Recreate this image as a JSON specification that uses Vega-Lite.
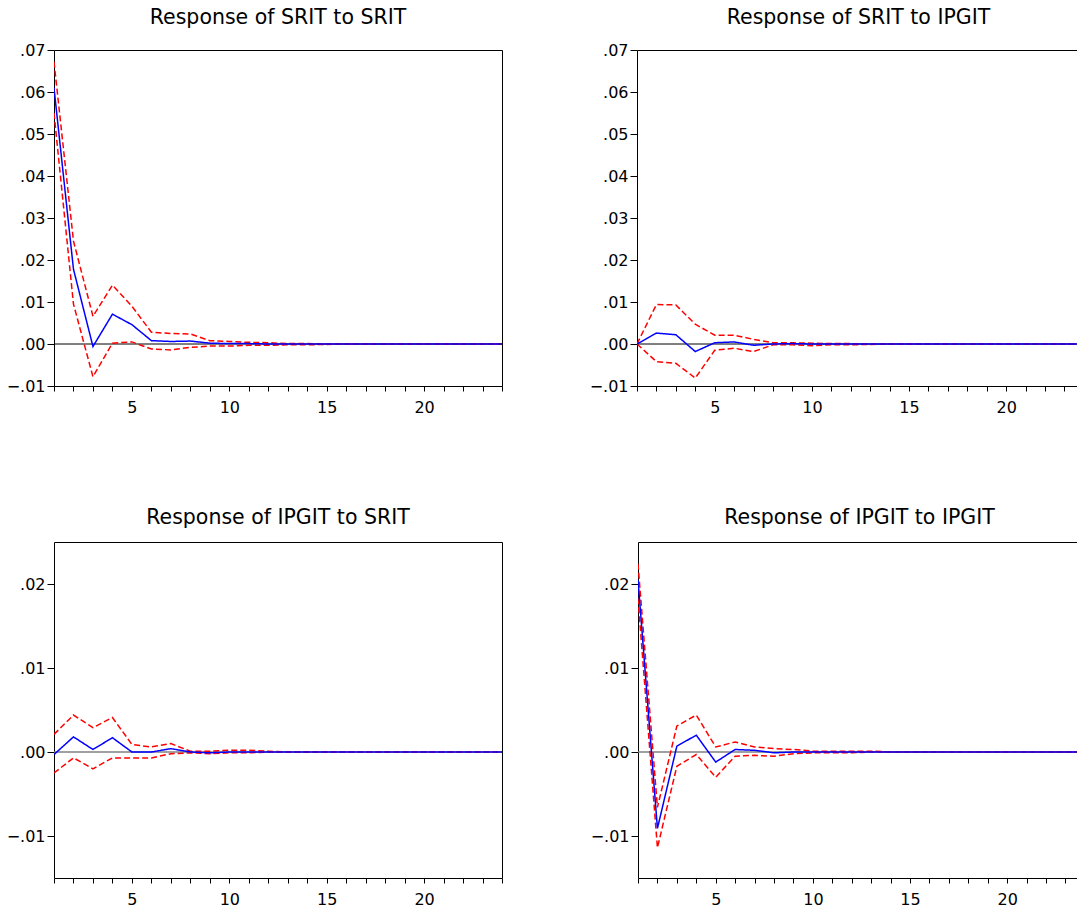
{
  "$schema": "https://vega.github.io/schema/vega-lite/v6.json",
  "background": "white",
  "padding": {"left": 5, "top": 7, "right": 0, "bottom": 0},
  "config": {
    "view": {"stroke": "black", "strokeWidth": 1},
    "font": "DejaVu Sans",
    "axis": {"grid": false, "domain": false, "labelFont": "DejaVu Sans", "labelFontSize": 16, "labelColor": "black", "tickColor": "black", "title": null, "labelOverlap": false, "labelFlush": false},
    "axisX": {"tickSize": 5, "labelPadding": 8, "minExtent": 31, "maxExtent": 31, "labelAngle": 0},
    "axisY": {"tickSize": 7, "labelPadding": 2, "minExtent": 48, "maxExtent": 48},
    "title": {"fontSize": 20.5, "fontWeight": "normal", "font": "DejaVu Sans", "anchor": "middle", "frame": "group", "offset": 14, "color": "black"}
  },
  "datasets": {
    "irf": [
      {"panel": "A", "t": 1, "response": 0.0610, "upper": 0.0672, "lower": 0.0550},
      {"panel": "A", "t": 2, "response": 0.0178, "upper": 0.0245, "lower": 0.0095},
      {"panel": "A", "t": 3, "response": -0.0006, "upper": 0.0066, "lower": -0.0078},
      {"panel": "A", "t": 4, "response": 0.0071, "upper": 0.0140, "lower": 0.0002},
      {"panel": "A", "t": 5, "response": 0.0046, "upper": 0.0090, "lower": 0.0005},
      {"panel": "A", "t": 6, "response": 0.0008, "upper": 0.0028, "lower": -0.0012},
      {"panel": "A", "t": 7, "response": 0.0006, "upper": 0.0025, "lower": -0.0014},
      {"panel": "A", "t": 8, "response": 0.0007, "upper": 0.0024, "lower": -0.0008},
      {"panel": "A", "t": 9, "response": 0.0002, "upper": 0.0008, "lower": -0.0005},
      {"panel": "A", "t": 10, "response": 0.0001, "upper": 0.0006, "lower": -0.0005},
      {"panel": "A", "t": 11, "response": 0.0001, "upper": 0.0004, "lower": -0.0003},
      {"panel": "A", "t": 12, "response": 0.0000, "upper": 0.0003, "lower": -0.0003},
      {"panel": "A", "t": 13, "response": 0.0000, "upper": 0.0001, "lower": -0.0002},
      {"panel": "A", "t": 14, "response": 0.0000, "upper": 0.0001, "lower": -0.0002},
      {"panel": "A", "t": 15, "response": 0.0000, "upper": 0.0000, "lower": -0.0001},
      {"panel": "A", "t": 16, "response": 0, "upper": 0, "lower": 0},
      {"panel": "A", "t": 17, "response": 0, "upper": 0, "lower": 0},
      {"panel": "A", "t": 18, "response": 0, "upper": 0, "lower": 0},
      {"panel": "A", "t": 19, "response": 0, "upper": 0, "lower": 0},
      {"panel": "A", "t": 20, "response": 0, "upper": 0, "lower": 0},
      {"panel": "A", "t": 21, "response": 0, "upper": 0, "lower": 0},
      {"panel": "A", "t": 22, "response": 0, "upper": 0, "lower": 0},
      {"panel": "A", "t": 23, "response": 0, "upper": 0, "lower": 0},
      {"panel": "A", "t": 24, "response": 0, "upper": 0, "lower": 0},
      {"panel": "B", "t": 1, "response": 0, "upper": 0, "lower": 0},
      {"panel": "B", "t": 2, "response": 0.0026, "upper": 0.0094, "lower": -0.0042},
      {"panel": "B", "t": 3, "response": 0.0022, "upper": 0.0093, "lower": -0.0046},
      {"panel": "B", "t": 4, "response": -0.0018, "upper": 0.0047, "lower": -0.0081},
      {"panel": "B", "t": 5, "response": 0.0003, "upper": 0.0021, "lower": -0.0015},
      {"panel": "B", "t": 6, "response": 0.0005, "upper": 0.0021, "lower": -0.0010},
      {"panel": "B", "t": 7, "response": -0.0003, "upper": 0.0011, "lower": -0.0018},
      {"panel": "B", "t": 8, "response": 0.0000, "upper": 0.0003, "lower": -0.0002},
      {"panel": "B", "t": 9, "response": 0.0001, "upper": 0.0003, "lower": -0.0002},
      {"panel": "B", "t": 10, "response": 0.0000, "upper": 0.0002, "lower": -0.0004},
      {"panel": "B", "t": 11, "response": 0.0000, "upper": 0.0001, "lower": -0.0002},
      {"panel": "B", "t": 12, "response": 0.0000, "upper": 0.0001, "lower": -0.0002},
      {"panel": "B", "t": 13, "response": 0.0000, "upper": 0.0000, "lower": -0.0001},
      {"panel": "B", "t": 14, "response": 0, "upper": 0, "lower": 0},
      {"panel": "B", "t": 15, "response": 0, "upper": 0, "lower": 0},
      {"panel": "B", "t": 16, "response": 0, "upper": 0, "lower": 0},
      {"panel": "B", "t": 17, "response": 0, "upper": 0, "lower": 0},
      {"panel": "B", "t": 18, "response": 0, "upper": 0, "lower": 0},
      {"panel": "B", "t": 19, "response": 0, "upper": 0, "lower": 0},
      {"panel": "B", "t": 20, "response": 0, "upper": 0, "lower": 0},
      {"panel": "B", "t": 21, "response": 0, "upper": 0, "lower": 0},
      {"panel": "B", "t": 22, "response": 0, "upper": 0, "lower": 0},
      {"panel": "B", "t": 23, "response": 0, "upper": 0, "lower": 0},
      {"panel": "B", "t": 24, "response": 0, "upper": 0, "lower": 0},
      {"panel": "C", "t": 1, "response": -0.0003, "upper": 0.0021, "lower": -0.0025},
      {"panel": "C", "t": 2, "response": 0.0018, "upper": 0.0044, "lower": -0.0007},
      {"panel": "C", "t": 3, "response": 0.0003, "upper": 0.0029, "lower": -0.0020},
      {"panel": "C", "t": 4, "response": 0.0017, "upper": 0.0041, "lower": -0.0007},
      {"panel": "C", "t": 5, "response": 0.0000, "upper": 0.0009, "lower": -0.0007},
      {"panel": "C", "t": 6, "response": 0.0000, "upper": 0.0006, "lower": -0.0007},
      {"panel": "C", "t": 7, "response": 0.0004, "upper": 0.0010, "lower": -0.0002},
      {"panel": "C", "t": 8, "response": 0.0000, "upper": 0.0001, "lower": -0.0001},
      {"panel": "C", "t": 9, "response": -0.0001, "upper": 0.0001, "lower": -0.0002},
      {"panel": "C", "t": 10, "response": 0.0000, "upper": 0.0002, "lower": -0.0001},
      {"panel": "C", "t": 11, "response": 0.0000, "upper": 0.0002, "lower": -0.0001},
      {"panel": "C", "t": 12, "response": 0.0000, "upper": 0.0001, "lower": 0.0000},
      {"panel": "C", "t": 13, "response": 0, "upper": 0, "lower": 0},
      {"panel": "C", "t": 14, "response": 0, "upper": 0, "lower": 0},
      {"panel": "C", "t": 15, "response": 0, "upper": 0, "lower": 0},
      {"panel": "C", "t": 16, "response": 0, "upper": 0, "lower": 0},
      {"panel": "C", "t": 17, "response": 0, "upper": 0, "lower": 0},
      {"panel": "C", "t": 18, "response": 0, "upper": 0, "lower": 0},
      {"panel": "C", "t": 19, "response": 0, "upper": 0, "lower": 0},
      {"panel": "C", "t": 20, "response": 0, "upper": 0, "lower": 0},
      {"panel": "C", "t": 21, "response": 0, "upper": 0, "lower": 0},
      {"panel": "C", "t": 22, "response": 0, "upper": 0, "lower": 0},
      {"panel": "C", "t": 23, "response": 0, "upper": 0, "lower": 0},
      {"panel": "C", "t": 24, "response": 0, "upper": 0, "lower": 0},
      {"panel": "D", "t": 1, "response": 0.0205, "upper": 0.0224, "lower": 0.0183},
      {"panel": "D", "t": 2, "response": -0.0091, "upper": -0.0066, "lower": -0.0114},
      {"panel": "D", "t": 3, "response": 0.0007, "upper": 0.0031, "lower": -0.0017},
      {"panel": "D", "t": 4, "response": 0.0020, "upper": 0.0044, "lower": -0.0003},
      {"panel": "D", "t": 5, "response": -0.0012, "upper": 0.0006, "lower": -0.0030},
      {"panel": "D", "t": 6, "response": 0.0003, "upper": 0.0012, "lower": -0.0005},
      {"panel": "D", "t": 7, "response": 0.0002, "upper": 0.0006, "lower": -0.0004},
      {"panel": "D", "t": 8, "response": -0.0001, "upper": 0.0004, "lower": -0.0005},
      {"panel": "D", "t": 9, "response": 0.0000, "upper": 0.0003, "lower": -0.0002},
      {"panel": "D", "t": 10, "response": 0.0000, "upper": 0.0001, "lower": -0.0001},
      {"panel": "D", "t": 11, "response": 0.0000, "upper": 0.0001, "lower": -0.0001},
      {"panel": "D", "t": 12, "response": 0.0000, "upper": 0.0001, "lower": -0.0001},
      {"panel": "D", "t": 13, "response": 0.0000, "upper": 0.0001, "lower": 0.0000},
      {"panel": "D", "t": 14, "response": 0, "upper": 0, "lower": 0},
      {"panel": "D", "t": 15, "response": 0, "upper": 0, "lower": 0},
      {"panel": "D", "t": 16, "response": 0, "upper": 0, "lower": 0},
      {"panel": "D", "t": 17, "response": 0, "upper": 0, "lower": 0},
      {"panel": "D", "t": 18, "response": 0, "upper": 0, "lower": 0},
      {"panel": "D", "t": 19, "response": 0, "upper": 0, "lower": 0},
      {"panel": "D", "t": 20, "response": 0, "upper": 0, "lower": 0},
      {"panel": "D", "t": 21, "response": 0, "upper": 0, "lower": 0},
      {"panel": "D", "t": 22, "response": 0, "upper": 0, "lower": 0},
      {"panel": "D", "t": 23, "response": 0, "upper": 0, "lower": 0},
      {"panel": "D", "t": 24, "response": 0, "upper": 0, "lower": 0}
    ]
  },
  "spacing": 89,
  "vconcat": [
    {
      "spacing": 85,
      "hconcat": [
        {
          "title": "Response of SRIT to SRIT",
          "width": 448, "height": 336,
          "layer": [
            {
              "data": {"values": [{"zero": 0}]},
              "mark": {"type": "rule", "color": "black", "strokeWidth": 1},
              "encoding": {"y": {"field": "zero", "type": "quantitative", "scale": {"domain": [-0.01, 0.07], "nice": false, "zero": false}}}
            },
            {
              "data": {"name": "irf"},
              "transform": [{"filter": "datum.panel === 'A'"}, {"fold": ["lower", "upper", "response"], "as": ["series", "value"]}],
              "mark": {"type": "line", "clip": true, "strokeWidth": 1.5},
              "encoding": {
                "x": {"field": "t", "type": "quantitative", "scale": {"domain": [1, 24], "nice": false, "zero": false},
                      "axis": {"values": [1,2,3,4,5,6,7,8,9,10,11,12,13,14,15,16,17,18,19,20,21,22,23,24], "labelExpr": "datum.value % 5 === 0 ? datum.label : ''"}},
                "y": {"field": "value", "type": "quantitative", "scale": {"domain": [-0.01, 0.07], "nice": false, "zero": false},
                      "axis": {"values": [-0.01, 0, 0.01, 0.02, 0.03, 0.04, 0.05, 0.06, 0.07], "labelExpr": "replace(format(datum.value, '.2f'), '0.', '.')"}},
                "color": {"field": "series", "type": "nominal", "scale": {"domain": ["response", "upper", "lower"], "range": ["#0000ff", "#ff0000", "#ff0000"]}, "legend": null},
                "strokeDash": {"field": "series", "type": "nominal", "scale": {"domain": ["response", "upper", "lower"], "range": [[1, 0], [6, 3], [6, 3]]}, "legend": null}
              }
            }
          ]
        },
        {
          "title": "Response of SRIT to IPGIT",
          "width": 443, "height": 336,
          "layer": [
            {
              "data": {"values": [{"zero": 0}]},
              "mark": {"type": "rule", "color": "black", "strokeWidth": 1},
              "encoding": {"y": {"field": "zero", "type": "quantitative", "scale": {"domain": [-0.01, 0.07], "nice": false, "zero": false}}}
            },
            {
              "data": {"name": "irf"},
              "transform": [{"filter": "datum.panel === 'B'"}, {"fold": ["lower", "upper", "response"], "as": ["series", "value"]}],
              "mark": {"type": "line", "clip": true, "strokeWidth": 1.5},
              "encoding": {
                "x": {"field": "t", "type": "quantitative", "scale": {"domain": [1, 23.8], "nice": false, "zero": false},
                      "axis": {"values": [1,2,3,4,5,6,7,8,9,10,11,12,13,14,15,16,17,18,19,20,21,22,23], "labelExpr": "datum.value % 5 === 0 ? datum.label : ''"}},
                "y": {"field": "value", "type": "quantitative", "scale": {"domain": [-0.01, 0.07], "nice": false, "zero": false},
                      "axis": {"values": [-0.01, 0, 0.01, 0.02, 0.03, 0.04, 0.05, 0.06, 0.07], "labelExpr": "replace(format(datum.value, '.2f'), '0.', '.')"}},
                "color": {"field": "series", "type": "nominal", "scale": {"domain": ["response", "upper", "lower"], "range": ["#0000ff", "#ff0000", "#ff0000"]}, "legend": null},
                "strokeDash": {"field": "series", "type": "nominal", "scale": {"domain": ["response", "upper", "lower"], "range": [[1, 0], [6, 3], [6, 3]]}, "legend": null}
              }
            }
          ]
        }
      ]
    },
    {
      "spacing": 85,
      "hconcat": [
        {
          "title": "Response of IPGIT to SRIT",
          "width": 448, "height": 336,
          "layer": [
            {
              "data": {"values": [{"zero": 0}]},
              "mark": {"type": "rule", "color": "#808080", "strokeWidth": 1.5},
              "encoding": {"y": {"field": "zero", "type": "quantitative", "scale": {"domain": [-0.015, 0.025], "nice": false, "zero": false}}}
            },
            {
              "data": {"name": "irf"},
              "transform": [{"filter": "datum.panel === 'C'"}, {"fold": ["lower", "upper", "response"], "as": ["series", "value"]}],
              "mark": {"type": "line", "clip": true, "strokeWidth": 1.5},
              "encoding": {
                "x": {"field": "t", "type": "quantitative", "scale": {"domain": [1, 24], "nice": false, "zero": false},
                      "axis": {"values": [1,2,3,4,5,6,7,8,9,10,11,12,13,14,15,16,17,18,19,20,21,22,23,24], "labelExpr": "datum.value % 5 === 0 ? datum.label : ''"}},
                "y": {"field": "value", "type": "quantitative", "scale": {"domain": [-0.015, 0.025], "nice": false, "zero": false},
                      "axis": {"values": [-0.01, 0, 0.01, 0.02], "labelExpr": "replace(format(datum.value, '.2f'), '0.', '.')"}},
                "color": {"field": "series", "type": "nominal", "scale": {"domain": ["response", "upper", "lower"], "range": ["#0000ff", "#ff0000", "#ff0000"]}, "legend": null},
                "strokeDash": {"field": "series", "type": "nominal", "scale": {"domain": ["response", "upper", "lower"], "range": [[1, 0], [6, 3], [6, 3]]}, "legend": null}
              }
            }
          ]
        },
        {
          "title": "Response of IPGIT to IPGIT",
          "width": 443, "height": 336,
          "layer": [
            {
              "data": {"values": [{"zero": 0}]},
              "mark": {"type": "rule", "color": "#808080", "strokeWidth": 1.5},
              "encoding": {"y": {"field": "zero", "type": "quantitative", "scale": {"domain": [-0.015, 0.025], "nice": false, "zero": false}}}
            },
            {
              "data": {"name": "irf"},
              "transform": [{"filter": "datum.panel === 'D'"}, {"fold": ["lower", "upper", "response"], "as": ["series", "value"]}],
              "mark": {"type": "line", "clip": true, "strokeWidth": 1.5},
              "encoding": {
                "x": {"field": "t", "type": "quantitative", "scale": {"domain": [1, 23.8], "nice": false, "zero": false},
                      "axis": {"values": [1,2,3,4,5,6,7,8,9,10,11,12,13,14,15,16,17,18,19,20,21,22,23], "labelExpr": "datum.value % 5 === 0 ? datum.label : ''"}},
                "y": {"field": "value", "type": "quantitative", "scale": {"domain": [-0.015, 0.025], "nice": false, "zero": false},
                      "axis": {"values": [-0.01, 0, 0.01, 0.02], "labelExpr": "replace(format(datum.value, '.2f'), '0.', '.')"}},
                "color": {"field": "series", "type": "nominal", "scale": {"domain": ["response", "upper", "lower"], "range": ["#0000ff", "#ff0000", "#ff0000"]}, "legend": null},
                "strokeDash": {"field": "series", "type": "nominal", "scale": {"domain": ["response", "upper", "lower"], "range": [[1, 0], [6, 3], [6, 3]]}, "legend": null}
              }
            }
          ]
        }
      ]
    }
  ]
}
